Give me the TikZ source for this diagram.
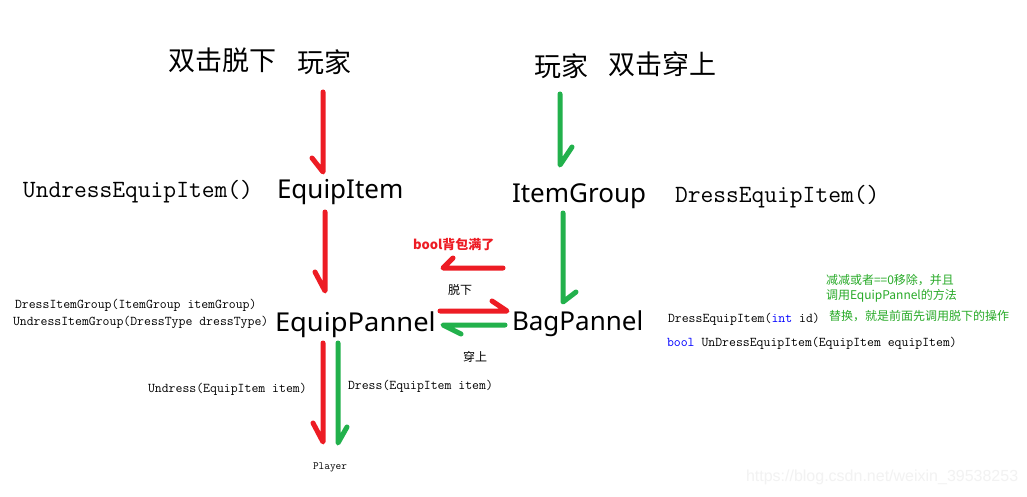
\documentclass[tikz,border=0pt]{standalone}
\usepackage{fontspec}
\newfontfamily\cjk{Noto Sans CJK SC}
\newfontfamily\ysans{Noto Sans}
\newfontfamily\wmfont{Liberation Sans}
\definecolor{pred}{RGB}{237,28,36}
\definecolor{pgreen}{RGB}{34,177,76}
\definecolor{tgreen}{RGB}{40,170,40}
\begin{document}
\begin{tikzpicture}[x=1pt,y=-1pt,
  every node/.style={inner sep=0pt, outer sep=0pt},
  big/.style={font=\ysans\fontsize{26}{30}\selectfont, anchor=base west},
  cjkbig/.style={font=\cjk\fontsize{27}{32}\selectfont, anchor=west},
  monobig/.style={font=\ttfamily\fontsize{24.8}{28}\selectfont, anchor=base west},
  monosmall/.style={font=\ttfamily\fontsize{13.4}{16}\selectfont, anchor=base west},
  cjksmall/.style={font=\cjk\fontsize{12}{14}\selectfont, anchor=west},
  note/.style={font=\cjk\fontsize{12}{14}\selectfont, anchor=west, text=tgreen},
  hand/.style={line width=5pt, line cap=round, line join=round},
  redhand/.style={hand, draw=pred},
  greenhand/.style={hand, draw=pgreen},
]
\useasboundingbox[fill=white] (0,0) rectangle (1027,497);

% titles
\node[cjkbig] (dblL) at (168,60) {双击脱下};
\node[cjkbig] (playerL) at (297,62) {玩家};
\node[cjkbig] (playerR) at (534,66) {玩家};
\node[cjkbig] (dblR) at (608,64) {双击穿上};

% main nodes
\node[monobig] (undressEI) at (23,197) {UndressEquipItem()};
\node[big] (ei) at (277,198) {EquipItem};
\node[big] (ig) at (512,202) {ItemGroup};
\node[monobig] (dressEI) at (675,202) {DressEquipItem()};

\node[font=\cjk\bfseries\fontsize{13}{15}\selectfont, text=pred, anchor=west] (full) at (413,245) {bool背包满了};
\node[cjksmall] (off) at (448,290) {脱下};
\node[big, xscale=1.05] (ep) at (275,331) {EquipPannel};
\node[big] (bp) at (512,330) {BagPannel};
\node[cjksmall] (on) at (463,357) {穿上};

\node[monosmall] (dig) at (15,308.5) {DressItemGroup(ItemGroup itemGroup)};
\node[monosmall] (uig) at (13,325.5) {UndressItemGroup(DressType dressType)};

\node[note] (n1) at (826,280) {减减或者==0移除，并且};
\node[note] (n2) at (826,296) {调用EquipPannel的方法};
\node[note] (n3) at (829,316) {替换，就是前面先调用脱下的操作};
\node[monosmall] (dei) at (668,322.5) {DressEquipItem(\textcolor{blue}{int} id)};
\node[monosmall] (ude) at (667,346) {\textcolor{blue}{bool} UnDressEquipItem(EquipItem equipItem)};

\node[monosmall] (und) at (148,392) {Undress(EquipItem item)};
\node[monosmall] (drs) at (348,389) {Dress(EquipItem item)};
\node[font=\ttfamily\fontsize{11}{12}\selectfont, anchor=base west] (pl) at (313,469) {Player};

\node[font=\wmfont\fontsize{16}{18}\selectfont, text=black!5, anchor=west] (wm) at (746,477) {https://blog.csdn.net/weixin\_39538253};

% arrow end points
\coordinate (r1a) at (323,92);  \coordinate (r1b) at (323,172);
\coordinate (g1a) at (560,94);  \coordinate (g1b) at (560,165);
\coordinate (r2a) at (325,212); \coordinate (r2b) at (325,291);
\coordinate (g2a) at (563,213); \coordinate (g2b) at (563,302);
\coordinate (rba) at (503,268); \coordinate (rbb) at (443,268);
\coordinate (r3a) at (440,311); \coordinate (r3b) at (507,311);
\coordinate (g3a) at (505,325); \coordinate (g3b) at (443,325);
\coordinate (r4a) at (323,343); \coordinate (r4b) at (323,442);
\coordinate (g4a) at (338,343); \coordinate (g4b) at (338,443);

\draw[redhand]   (r1a) -- (r1b) -- ++(-11,-14);
\draw[greenhand] (g1a) -- (g1b) -- ++(12,-18);
\draw[redhand]   (r2a) -- (r2b) -- ++(-10,-19);
\draw[greenhand] (g2a) -- (g2b) -- ++(13,-10);
\draw[redhand]   (rba) -- (rbb) -- ++(10,-10);
\draw[redhand]   (r3a) -- (r3b) -- ++(-15,-10);
\draw[greenhand] (g3a) -- (g3b) -- ++(18,9);
\draw[redhand]   (r4a) -- (r4b) -- ++(-10,-19);
\draw[greenhand] (g4a) -- (g4b) -- ++(9,-16);
\end{tikzpicture}
\end{document}
